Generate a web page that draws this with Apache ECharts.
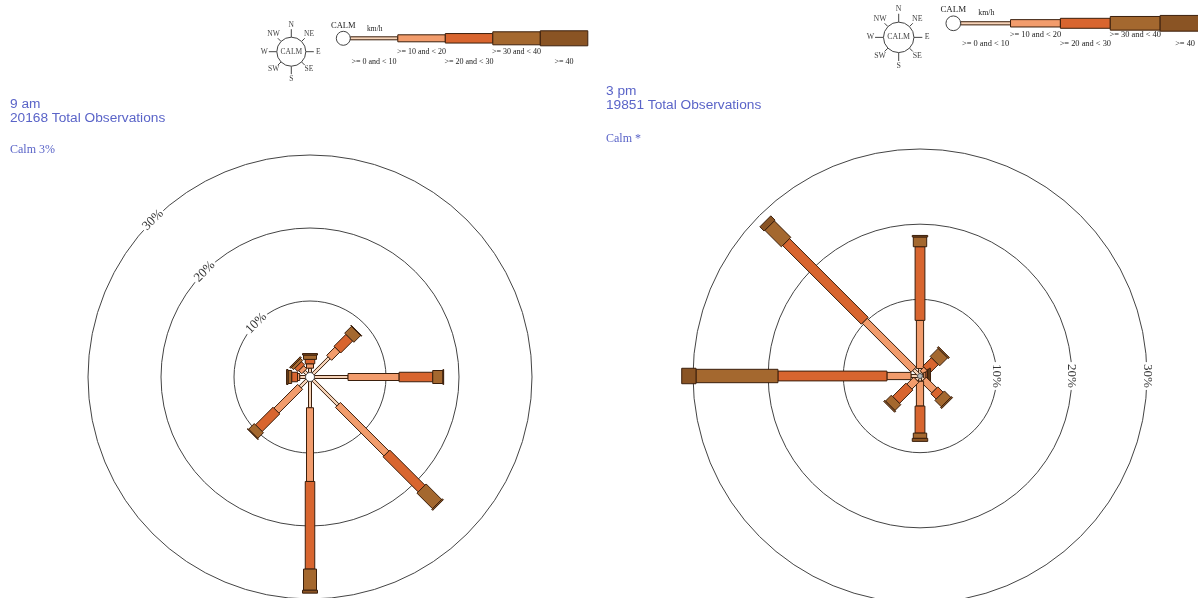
<!DOCTYPE html>
<html><head><meta charset="utf-8">
<style>html,body{margin:0;padding:0;background:#fff}#chart{width:1198px;height:598px}</style>
<script src="https://cdn.jsdelivr.net/npm/echarts@6/dist/echarts.min.js"></script>
</head><body><div id="chart"></div>
<script>
// ---------- data ----------
const directions = ['N', 'NE', 'E', 'SE', 'S', 'SW', 'W', 'NW'];
const directionAngles = [0, 45, 90, 135, 180, 225, 270, 315];
const speedBands = ['>= 0 and < 10', '>= 10 and < 20', '>= 20 and < 30', '>= 30 and < 40', '>= 40'];
const ringValues = [10, 20, 30];
const ringLabels = ['10%', '20%', '30%'];

// 9 am (% of observations per direction, per speed band km/h)
const am_0_10  = [0.8, 3.3, 4.8, 5.0, 3.8, 1.5, 1.0, 0.7];
const am_10_20 = [0.6, 1.6, 7.0, 9.4, 10.1, 4.6, 0.3, 0.6];
const am_20_30 = [0.6, 2.3, 4.6, 6.8, 12.0, 3.4, 0.8, 0.6];
const am_30_40 = [0.6, 1.3, 1.4, 3.0, 2.9, 1.1, 0.5, 0.4];
const am_40    = [0.2, 0.1, 0.1, 0.2, 0.4, 0.1, 0.2, 0.2];
// 3 pm
const pm_0_10  = [0.8, 0.3, 0.3, 0.5, 0.5, 0.5, 1.0, 1.0];
const pm_10_20 = [6.4, 0.7, 0.3, 2.0, 3.3, 1.3, 3.2, 9.2];
const pm_20_30 = [9.8, 1.6, 0.2, 1.0, 3.6, 2.5, 14.5, 14.8];
const pm_30_40 = [1.3, 1.5, 0.2, 1.2, 0.7, 1.1, 10.9, 3.1];
const pm_40    = [0.2, 0.2, 0.2, 0.2, 0.4, 0.2, 1.9, 0.8];

const amLabel = '9 am', amObservations = 20168, amCalm = '3%';
const pmLabel = '3 pm', pmObservations = 19851, pmCalm = '*';

// ---------- styles ----------
const bandColors = ['#f6d3b8', '#f29c6c', '#d8652f', '#a4682f', '#8a5424'];
const bandWidths = [3, 7, 9.5, 13, 15];
const strokeColor = '#3b1f0c';
const titleColor = '#5a64c8';
const serif = '"Liberation Serif", "DejaVu Serif", serif';
const sans = '"Liberation Sans", Arial, sans-serif';

function buildBars(bands) {
  const out = [];
  directions.forEach((d, i) => {
    let acc = 0;
    bands.forEach((arr, b) => {
      const v = arr[i];
      if (v > 0) out.push([acc, directionAngles[i], acc + v, b]);
      acc += v;
    });
  });
  return out;
}

function barRenderer(scale) {
  return function (params, api) {
    const ang = api.value(1);
    const p0 = api.coord([api.value(0), ang]);
    const p1 = api.coord([api.value(2), ang]);
    const band = api.value(3);
    const dx = p1[0] - p0[0], dy = p1[1] - p0[1];
    const len = Math.hypot(dx, dy);
    if (len < 0.05) return null;
    const nx = -dy / len, ny = dx / len;
    const hw = bandWidths[band] * scale / 2;
    return {
      type: 'polygon',
      shape: { points: [
        [p0[0] + nx * hw, p0[1] + ny * hw], [p1[0] + nx * hw, p1[1] + ny * hw],
        [p1[0] - nx * hw, p1[1] - ny * hw], [p0[0] - nx * hw, p0[1] - ny * hw]] },
      style: { fill: bandColors[band], stroke: strokeColor, lineWidth: 1 }
    };
  };
}

function calmRenderer(r, fill) {
  return function (params, api) {
    const a = api.coord([0, 0]), b = api.coord([0, 180]);
    return { type: 'circle', shape: { cx: (a[0] + b[0]) / 2, cy: (a[1] + b[1]) / 2, r: r },
      style: { fill: fill, stroke: '#555', lineWidth: 1 } };
  };
}

function ringRenderer(rot) {
  return function (params, api) {
    const p = api.coord([api.value(0), api.value(1)]);
    return { type: 'text', x: p[0], y: p[1], rotation: rot,
      style: { text: ringLabels[params.dataIndex], font: '13px ' + serif, fill: '#333',
        align: 'center', verticalAlign: 'middle', backgroundColor: '#fff', padding: [0, 2] } };
  };
}

function legendEls(ox, oy, s, rowA, rowB) {
  const els = [];
  const cx = ox - 52 * s, cy = oy + 13.4 * s, cr = 14.5 * s;
  directions.forEach((d, i) => {
    const a = directionAngles[i] * Math.PI / 180;
    const card = i % 2 === 0;
    const t = card ? 8 * s : 4.5 * s;
    const ux = Math.sin(a), uy = -Math.cos(a);
    els.push({ type: 'line', shape: { x1: cx + ux * cr, y1: cy + uy * cr, x2: cx + ux * (cr + t), y2: cy + uy * (cr + t) },
      style: { stroke: '#444', lineWidth: 1 } });
    const ld = card ? 27 * s : 25 * s;
    els.push({ type: 'text', style: { text: d, x: cx + ux * ld, y: cy + uy * ld, font: (7.5 * s) + 'px ' + serif,
      fill: '#444', align: 'center', verticalAlign: 'middle' } });
  });
  els.push({ type: 'circle', shape: { cx: cx, cy: cy, r: cr }, style: { fill: '#fff', stroke: '#444', lineWidth: 1 } });
  els.push({ type: 'text', style: { text: 'CALM', x: cx, y: cy, font: (7.5 * s) + 'px ' + serif, fill: '#444', align: 'center', verticalAlign: 'middle' } });
  // speed scale
  const x0 = ox + 7 * s, w = 47.5 * s;
  speedBands.forEach((b, i) => {
    const h = bandWidths[i] * s;
    els.push({ type: 'rect', shape: { x: x0 + i * w, y: oy - h / 2, width: w, height: h },
      style: { fill: bandColors[i], stroke: strokeColor, lineWidth: 1 } });
    els.push({ type: 'text', style: { text: b, x: x0 + (i + 0.5) * w, y: oy + (i % 2 ? rowA : rowB),
      font: (8 * s) + 'px ' + serif, fill: '#222', align: 'center', verticalAlign: 'middle' } });
  });
  els.push({ type: 'circle', shape: { cx: ox, cy: oy, r: 7 * s }, style: { fill: '#fff', stroke: '#444', lineWidth: 1 } });
  els.push({ type: 'text', style: { text: 'CALM', x: ox, y: oy - 12.8 * s, font: (8.5 * s) + 'px ' + serif, fill: '#222', align: 'center', verticalAlign: 'middle' } });
  els.push({ type: 'text', style: { text: 'km/h', x: ox + 31.5 * s, y: oy - 9.5 * s, font: (7.5 * s) + 'px ' + serif, fill: '#222', align: 'center', verticalAlign: 'middle' } });
  return els;
}

function titleEls(x, y, label, obs, calm, calmY) {
  return [
    { type: 'text', style: { text: label + '\n' + obs + ' Total Observations', x: x, y: y, font: '13.7px ' + sans,
      lineHeight: 13.5, fill: titleColor, verticalAlign: 'top' } },
    { type: 'text', style: { text: 'Calm ' + calm, x: x, y: calmY, font: '12px ' + serif, fill: titleColor, verticalAlign: 'top' } }
  ];
}

const axisCommon = { axisLine: { show: false }, axisTick: { show: false }, axisLabel: { show: false } };

const chart = echarts.init(document.getElementById('chart'), null, { renderer: 'canvas' });
chart.setOption({
  animation: false,
  backgroundColor: '#fff',
  polar: [
    { center: [310, 377], radius: [3, 222] },
    { center: [920, 376], radius: [1.5, 227] }
  ],
  angleAxis: [
    Object.assign({ polarIndex: 0, type: 'value', min: 0, max: 360, startAngle: 90, clockwise: true, splitLine: { show: false } }, axisCommon),
    Object.assign({ polarIndex: 1, type: 'value', min: 0, max: 360, startAngle: 90, clockwise: true, splitLine: { show: false } }, axisCommon)
  ],
  radiusAxis: [
    Object.assign({ polarIndex: 0, type: 'value', min: 0, max: 30, interval: 10, splitLine: { show: true, lineStyle: { color: '#444', width: 1 } } }, axisCommon),
    Object.assign({ polarIndex: 1, type: 'value', min: 0, max: 30, interval: 10, splitLine: { show: true, lineStyle: { color: '#444', width: 1 } } }, axisCommon)
  ],
  series: [
    { type: 'custom', coordinateSystem: 'polar', polarIndex: 0, data: buildBars([am_0_10, am_10_20, am_20_30, am_30_40, am_40]),
      renderItem: barRenderer(1), clip: false, silent: true, z: 3 },
    { type: 'custom', coordinateSystem: 'polar', polarIndex: 1, data: buildBars([pm_0_10, pm_10_20, pm_20_30, pm_30_40, pm_40]),
      renderItem: barRenderer(1.03), clip: false, silent: true, z: 3 },
    { type: 'custom', coordinateSystem: 'polar', polarIndex: 0, data: [[0, 0]], renderItem: calmRenderer(4.5, '#fff'), silent: true, z: 4 },
    { type: 'custom', coordinateSystem: 'polar', polarIndex: 1, data: [[0, 0]], renderItem: calmRenderer(2.5, '#bbb'), silent: true, z: 4 },
    { type: 'custom', coordinateSystem: 'polar', polarIndex: 0, data: ringValues.map(v => [v, 315]),
      renderItem: ringRenderer(Math.PI / 4), silent: true, z: 5 },
    { type: 'custom', coordinateSystem: 'polar', polarIndex: 1, data: ringValues.map(v => [v, 90]),
      renderItem: ringRenderer(-Math.PI / 2), silent: true, z: 5 }
  ],
  graphic: { elements: [].concat(
    legendEls(343.3, 38.3, 1, 13.4, 23.4),
    legendEls(953.3, 23.3, 1.05, 11.7, 20.4),
    titleEls(10, 97.5, amLabel, amObservations, amCalm, 144),
    titleEls(606, 84.5, pmLabel, pmObservations, pmCalm, 133)
  ) }
});
</script></body></html>
